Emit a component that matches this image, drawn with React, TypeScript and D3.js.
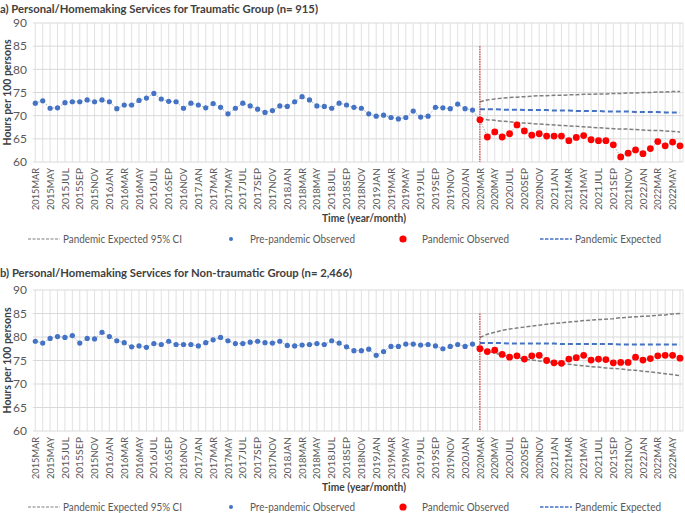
import React from "react";
import * as d3 from "d3";

// ---- Data ----
const tickLabels = [
  "2015MAR","2015MAY","2015JUL","2015SEP","2015NOV","2016JAN","2016MAR","2016MAY","2016JUL","2016SEP","2016NOV",
  "2017JAN","2017MAR","2017MAY","2017JUL","2017SEP","2017NOV","2018JAN","2018MAR","2018MAY","2018JUL","2018SEP","2018NOV",
  "2019JAN","2019MAR","2019MAY","2019JUL","2019SEP","2019NOV","2020JAN","2020MAR","2020MAY","2020JUL","2020SEP","2020NOV",
  "2021JAN","2021MAR","2021MAY","2021JUL","2021SEP","2021NOV","2022JAN","2022MAR","2022MAY"
];
const yTicks = [60, 65, 70, 75, 80, 85, 90];

// Panel a: traumatic (2015MAR..2020FEB pre; 2020MAR..2022JUN pandemic)
const traumaPre = [
  72.7,73.2,71.6,71.7,72.8,73.0,73.0,73.4,73.0,73.4,73.0,71.5,72.3,72.3,73.3,73.8,74.8,73.6,73.1,73.0,
  71.6,72.7,72.3,71.7,72.6,71.8,70.4,71.6,72.7,72.1,71.4,70.7,71.1,72.1,72.0,73.0,74.1,73.4,72.1,72.0,
  71.6,72.7,72.3,71.8,71.6,70.4,69.9,70.1,69.6,69.3,69.6,71.0,69.7,69.9,71.8,71.7,71.5,72.5,71.5,71.2
];
const traumaPan = [
  69.1,65.4,66.5,65.4,66.1,68.0,66.7,65.8,66.1,65.6,65.6,65.6,64.6,65.3,65.7,64.8,64.6,64.6,63.7,61.1,
  61.9,62.6,61.8,62.9,64.4,63.5,64.3,63.5
];
const traumaExp = [
  71.4,71.4,71.4,71.3,71.3,71.3,71.2,71.2,71.2,71.2,71.1,71.1,71.1,71.0,71.0,71.0,71.0,70.9,70.9,70.9,
  70.9,70.8,70.8,70.8,70.8,70.7,70.7,70.7
];
const traumaUpper = [
  73.0,73.4,73.6,73.8,73.9,74.0,74.1,74.2,74.3,74.3,74.4,74.4,74.5,74.5,74.6,74.6,74.7,74.7,74.8,74.8,
  74.9,74.9,75.0,75.0,75.1,75.1,75.2,75.2
];
const traumaLower = [
  69.4,69.1,69.0,68.8,68.7,68.5,68.4,68.3,68.2,68.1,68.0,67.9,67.8,67.7,67.6,67.5,67.4,67.3,67.2,67.1,
  67.1,67.0,66.9,66.8,66.8,66.7,66.6,66.5
];

// Panel b: non-traumatic
const nonTraumaPre = [
  79.1,78.7,79.7,80.1,79.9,80.3,78.7,79.7,79.6,81.0,80.1,79.2,78.8,77.9,78.1,77.8,78.6,78.4,79.1,78.4,
  78.4,78.4,78.1,78.8,79.4,79.9,79.2,78.6,78.6,78.9,79.1,78.8,78.7,79.1,78.2,78.1,78.3,78.4,78.6,78.4,
  79.2,78.7,77.9,77.1,77.1,77.4,76.1,76.9,78.0,78.0,78.5,78.5,78.3,78.4,78.1,77.5,78.0,78.4,78.0,78.5
];
const nonTraumaPan = [
  77.5,76.9,77.2,76.3,75.7,76.0,75.3,76.0,76.1,75.0,74.5,74.4,75.3,75.6,76.1,75.1,75.3,75.2,74.5,74.6,
  74.6,75.7,75.1,75.4,76.0,76.1,76.1,75.5
];
const nonTraumaExp = [
  78.7,78.7,78.7,78.7,78.6,78.6,78.6,78.6,78.6,78.6,78.6,78.5,78.5,78.5,78.5,78.5,78.5,78.5,78.5,78.4,
  78.4,78.4,78.4,78.4,78.4,78.4,78.4,78.4
];
const nonTraumaUpper = [
  79.9,80.6,81.0,81.4,81.7,81.9,82.1,82.3,82.5,82.7,82.9,83.0,83.2,83.3,83.5,83.6,83.7,83.8,83.9,84.1,
  84.2,84.3,84.4,84.5,84.6,84.7,84.9,85.0
];
const nonTraumaLower = [
  77.9,77.0,76.6,76.2,75.9,75.6,75.3,75.1,74.9,74.7,74.5,74.3,74.2,74.0,73.9,73.7,73.6,73.4,73.3,73.2,
  73.0,72.9,72.7,72.6,72.4,72.2,72.0,71.8
];

const FONT = "Lato, 'Open Sans', sans-serif";
const BLUE = "#4472C4";
const RED = "#FF0000";
const GRID = "#D9D9D9";
const TEXT = "#595959";

interface PanelProps {
  title: string;
  titleLen: number;
  titleY: number;
  top: number;
  bottom: number;
  pre: number[];
  pan: number[];
  exp: number[];
  up: number[];
  lo: number[];
  timeY: number;
  legendY: number;
}

function Panel(p: PanelProps) {
  const nPre = p.pre.length;
  const nAll = nPre + p.pan.length;
  const x = d3.scaleLinear().domain([0, nAll - 1]).range([35.3, 680]);
  const y = d3.scaleLinear().domain([60, 90]).range([p.bottom, p.top]);
  const line = d3
    .line<[number, number]>()
    .x((d) => x(d[0]))
    .y((d) => y(d[1]));
  const obs: [number, number][] = [
    ...p.pre.map((v, i) => [i, v] as [number, number]),
    ...p.pan.map((v, i) => [nPre + i, v] as [number, number]),
  ];
  const seg = (arr: number[]) => arr.map((v, i) => [nPre + i, v] as [number, number]);
  const xRight = 683;
  const midY = (p.top + p.bottom) / 2;
  return (
    <g>
      <text x={0} y={p.titleY} fontFamily={FONT} fontWeight="bold" fontSize={12} fill="#404040" textLength={p.titleLen} lengthAdjust="spacingAndGlyphs">
        {p.title}
      </text>
      {/* grid */}
      {d3.range(nAll).map((i) => (
        <line key={"v" + i} x1={x(i)} x2={x(i)} y1={p.top} y2={p.bottom} stroke={GRID} strokeWidth={0.8} />
      ))}
      <line x1={xRight} x2={xRight} y1={p.top} y2={p.bottom} stroke={GRID} strokeWidth={0.8} />
      {yTicks.map((t) => (
        <g key={"h" + t}>
          <line x1={33} x2={xRight} y1={y(t)} y2={y(t)} stroke={GRID} strokeWidth={1} />
          <text x={27} y={y(t)} dy="0.35em" textAnchor="end" fontFamily={FONT} fontSize={12} fill={TEXT}>
            {t}
          </text>
        </g>
      ))}
      {/* x tick labels */}
      {tickLabels.map((lab, k) => {
        const xi = x(k * 2);
        const yy = p.bottom + 6;
        return (
          <text
            key={lab}
            transform={`translate(${xi + 3.6},${yy}) rotate(-90)`}
            textAnchor="end"
            fontFamily={FONT}
            fontSize={10}
            fill={TEXT}
            textLength={42}
            lengthAdjust="spacingAndGlyphs"
          >
            {lab}
          </text>
        );
      })}
      {/* y axis title */}
      <text
        transform={`translate(10.5,${midY}) rotate(-90)`}
        textAnchor="middle"
        fontFamily={FONT}
        fontWeight="bold"
        fontSize={11.5}
        fill="#404040"
        textLength={106}
        lengthAdjust="spacingAndGlyphs"
      >
        Hours per 100 persons
      </text>
      {/* x axis title */}
      <text x={364} y={p.timeY} textAnchor="middle" fontFamily={FONT} fontWeight="bold" fontSize={11} fill="#404040" textLength={84} lengthAdjust="spacingAndGlyphs">
        Time (year/month)
      </text>
      {/* CI */}
      <path d={line(seg(p.up)) || ""} fill="none" stroke="#7F7F7F" strokeWidth={1.5} strokeDasharray="4,2" />
      <path d={line(seg(p.lo)) || ""} fill="none" stroke="#7F7F7F" strokeWidth={1.5} strokeDasharray="4,2" />
      {/* expected */}
      <path d={line(seg(p.exp)) || ""} fill="none" stroke={BLUE} strokeWidth={2} strokeDasharray="5,3" />
      {/* intervention line */}
      <line x1={x(nPre)} x2={x(nPre)} y1={y(85)} y2={p.bottom} stroke="#C00000" strokeWidth={0.9} strokeDasharray="1.5,1" />
      {/* observed connector */}
      <path d={line(obs) || ""} fill="none" stroke="#9AAEC2" strokeWidth={1} strokeDasharray="1.5,1.5" />
      {p.pre.map((v, i) => (
        <circle key={"p" + i} cx={x(i)} cy={y(v)} r={2.6} fill={BLUE} />
      ))}
      {p.pan.map((v, i) => (
        <circle key={"q" + i} cx={x(nPre + i)} cy={y(v)} r={3.4} fill={RED} />
      ))}
      {/* legend */}
      <g fontFamily={FONT} fontSize={11} fill={TEXT}>
        <line x1={28} x2={60} y1={p.legendY} y2={p.legendY} stroke="#7F7F7F" strokeWidth={1} strokeDasharray="3,1.5" />
        <text x={63} y={p.legendY} dy="0.35em" textLength={119} lengthAdjust="spacingAndGlyphs">Pandemic Expected 95% CI</text>
        <circle cx={231} cy={p.legendY} r={2} fill={BLUE} />
        <text x={250} y={p.legendY} dy="0.35em" textLength={105} lengthAdjust="spacingAndGlyphs">Pre-pandemic Observed</text>
        <circle cx={403} cy={p.legendY} r={3.6} fill={RED} />
        <text x={422} y={p.legendY} dy="0.35em" textLength={87} lengthAdjust="spacingAndGlyphs">Pandemic Observed</text>
        <line x1={540} x2={572} y1={p.legendY} y2={p.legendY} stroke={BLUE} strokeWidth={1.3} strokeDasharray="3.5,1.5" />
        <text x={575} y={p.legendY} dy="0.35em" textLength={86} lengthAdjust="spacingAndGlyphs">Pandemic Expected</text>
      </g>
    </g>
  );
}

export default function App() {
  return (
    <div style={{ position: "absolute", left: 0, top: 0 }}>
      <svg width={685} height={513} style={{ display: "block", background: "#fff" }}>
        <Panel
          title="a) Personal/Homemaking Services for Traumatic Group (n= 915)"
          titleLen={318}
          titleY={12.5}
          top={23}
          bottom={162}
          pre={traumaPre}
          pan={traumaPan}
          exp={traumaExp}
          up={traumaUpper}
          lo={traumaLower}
          timeY={222}
          legendY={239}
        />
        <Panel
          title="b) Personal/Homemaking Services for Non-traumatic Group (n= 2,466)"
          titleLen={352}
          titleY={277}
          top={290}
          bottom={431}
          pre={nonTraumaPre}
          pan={nonTraumaPan}
          exp={nonTraumaExp}
          up={nonTraumaUpper}
          lo={nonTraumaLower}
          timeY={491}
          legendY={507}
        />
      </svg>
    </div>
  );
}
